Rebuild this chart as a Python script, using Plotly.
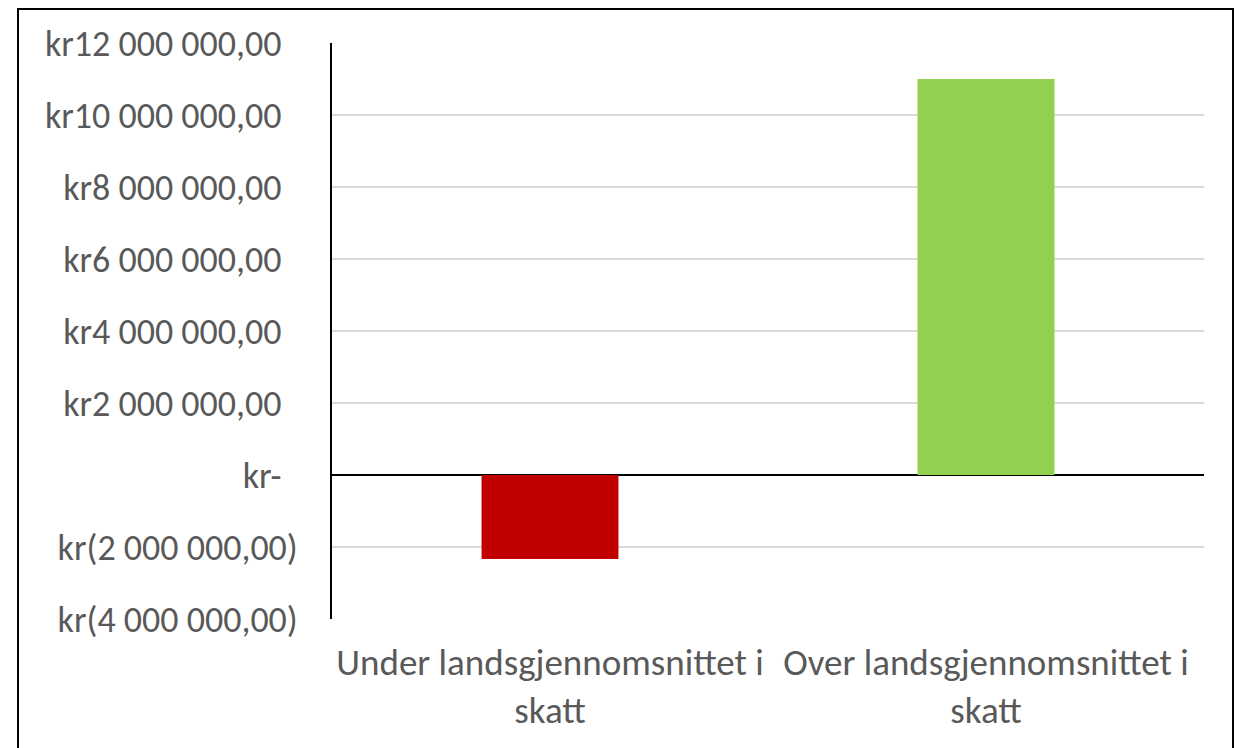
import plotly.graph_objects as go

categories = ["Under landsgjennomsnittet i<br>skatt", "Over landsgjennomsnittet i<br>skatt"]
values = [-2330000, 11000000]
bar_colors = ["#C00000", "#92D050"]
tick_vals = [12e6, 10e6, 8e6, 6e6, 4e6, 2e6, 0, -2e6, -4e6]
tick_text = ["kr12 000 000,00", "kr10 000 000,00", "kr8 000 000,00", "kr6 000 000,00",
             "kr4 000 000,00", "kr2 000 000,00", "kr-", "kr(2 000 000,00)", "kr(4 000 000,00)"]
pad = "\u00a0\u00a0"
tick_text = [t if t.endswith(")") else t + pad for t in tick_text]

FONT = "Carlito, Calibri, Lato, sans-serif"
TXT = "#595959"

# page is offset by 8px body margin; layout in figure coordinates
L, T, R, B = 324, 35, 1196, 611
W, H = 1246, 748
pw, ph = R - L, B - T

fig = go.Figure(go.Bar(x=categories, y=values, marker_color=bar_colors,
                       marker_line_width=0, width=0.314))

fig.update_layout(
    width=W, height=H,
    margin=dict(l=L, r=W - R, t=T, b=H - B),
    paper_bgcolor="white", plot_bgcolor="white",
    showlegend=False,
    font=dict(family=FONT, color=TXT, size=36),
)
fig.update_yaxes(range=[-4e6, 12e6], tickvals=tick_vals, ticktext=tick_text,
                 showgrid=True, gridcolor="#d9d9d9", gridwidth=1.5,
                 showline=True, linecolor="black", linewidth=2,
                 zeroline=True, zerolinecolor="black", zerolinewidth=2,
                 ticks="", ticklabelstandoff=25,
                 tickfont=dict(family=FONT, color=TXT, size=36))
fig.update_xaxes(showgrid=False, showline=False, ticks="", ticklabelstandoff=18,
                 tickfont=dict(family=FONT, color=TXT, size=37))

fig.add_shape(type="rect", xref="paper", yref="paper",
              x0=(10 - L) / pw, x1=(1225 - L) / pw,
              y0=(B - (H + 20)) / ph, y1=(B - 1) / ph,
              line=dict(color="black", width=2), fillcolor="rgba(0,0,0,0)", layer="above")

fig.write_html("out.html")
